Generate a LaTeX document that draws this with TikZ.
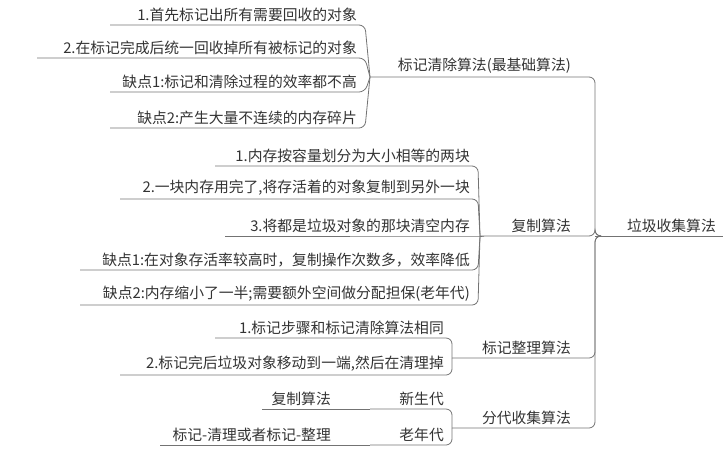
\documentclass[tikz,border=0pt]{standalone}
\usepackage{fontspec}
\newfontfamily\cjk{Noto Sans CJK SC}
\begin{document}
\begin{tikzpicture}[x=1pt,y=-1pt,
  lbl/.style={anchor=south east,inner sep=1pt,font=\cjk\fontsize{14.8}{16}\selectfont,text=black!80},
  ln/.style={draw=black!55,line width=0.8pt,rounded corners=6pt}]
\useasboundingbox (0,0) rectangle (723,456);
% root
\node[lbl] (root) at (717,234) {垃圾收集算法};
\coordinate (r) at (595,236);
\draw[ln] (r) -- (723,236);
\foreach \n/\t/\xr/\y/\xl in {b1/标记清除算法(最基础算法)/572/77/370, b2/复制算法/572/236/480, b3/标记整理算法/572/358/452, b4/分代收集算法/572/428/452}{
  \node[lbl] (\n) at (\xr,\y-2) {\t};
  \coordinate (\n L) at (\xl,\y);
  \draw[ln] (\n L) -- (595,\y) -- (r) -- (600,236);
}
\foreach \t/\y/\xl/\xb/\p in {
 1.首先标记出所有需要回收的对象/25/110/365/b1L,
 2.在标记完成后统一回收掉所有被标记的对象/58/37/365/b1L,
 缺点1:标记和清除过程的效率都不高/92/110/365/b1L,
 缺点2:产生大量不连续的内存碎片/128/110/365/b1L,
 1.内存按容量划分为大小相等的两块/166/215/478/b2L,
 {2.一块内存用完了,将存活着的对象复制到另外一块}/199/120/478/b2L,
 3.将都是垃圾对象的那块清空内存/236/225/478/b2L,
 缺点1:在对象存活率较高时，复制操作次数多，效率降低/270/80/478/b2L,
 缺点2:内存缩小了一半;需要额外空间做分配担保(老年代)/305/80/478/b2L,
 1.标记步骤和标记清除算法相同/338/215/452/b3L,
 {2.标记完后垃圾对象移动到一端,然后在清理掉}/375/120/452/b3L,
 新生代/409/370/452/b4L,
 老年代/445/370/452/b4L}{
  \node[lbl] at (\xb-7,\y-2) {\t};
  \draw[ln] (\xl,\y) -- (\xb,\y) -- (\p);
}
\node[lbl] (c1) at (332,407) {复制算法};
\node[lbl] (c2) at (332,443) {标记-清理或者标记-整理};
\draw[ln] (262,409) -- (370,409);
\draw[ln] (160,445) -- (370,445);
\end{tikzpicture}
\end{document}
